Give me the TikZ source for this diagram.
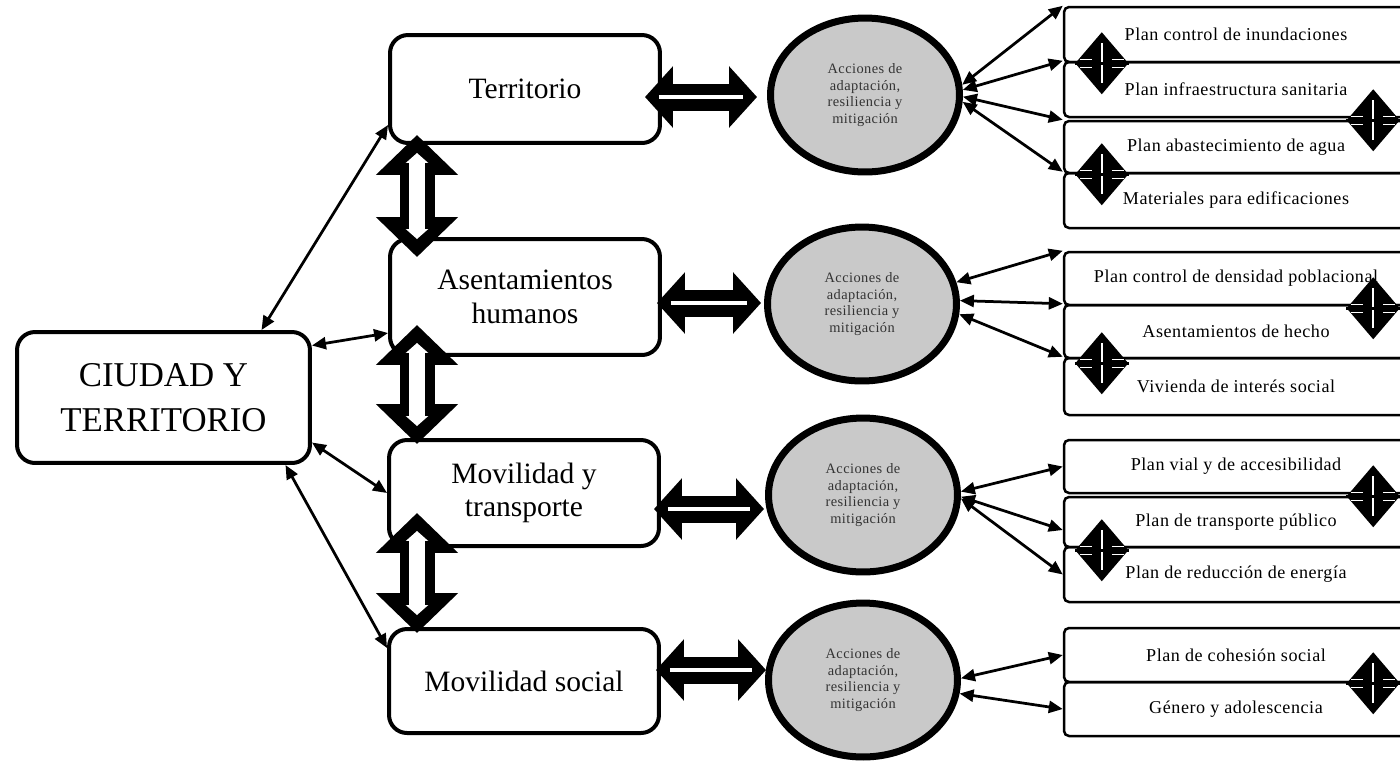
\documentclass[tikz,border=0pt]{standalone}
\usepackage{fontspec}
\setmainfont{Liberation Serif}
\newfontfamily\planfont[LetterSpace=3]{Liberation Serif}
\usetikzlibrary{
	arrows.meta,
	calc,
	positioning,
	shapes.geometric,
}
\tikzset{main box/.style={
	draw,
	rounded corners=0.36cm,
	line width=0.08cm,
	align=center,
	inner sep=0pt,
}}
\tikzset{theme box/.style={
	main box,
	minimum width=5.40cm,
	font=\fontsize{16.8}{19}\selectfont,
}}
\tikzset{action/.style={
	draw,
	ellipse,
	line width=0.14cm,
	fill=actiongray,
	minimum width=3.78cm,
	minimum height=3.08cm,
	inner sep=0pt,
	align=center,
	text=black!80,
	font=\planfont\fontsize{8.2}{9.6}\selectfont,
}}
\tikzset{plan box/.style={
	draw,
	rounded corners=0.1cm,
	line width=0.05cm,
	minimum width=6.88cm,
	inner sep=0pt,
	font=\planfont\fontsize{10.3}{13}\selectfont,
}}
\tikzset{thin link/.style={
	line width=0.055cm,
	{Triangle[length=0.28cm,width=0.24cm]}-{Triangle[length=0.28cm,width=0.24cm]},
}}
\tikzset{fat h/.style={
	line width=0.54cm,
	{Triangle[length=0.56cm,width=1.2cm]}-{Triangle[length=0.56cm,width=1.2cm]},
}}
\tikzset{fat h inner/.style={
	white,
	line width=0.09cm,
	shorten <=0.28cm,
	shorten >=0.28cm,
}}
\tikzset{fat v/.style={
	line width=0.7cm,
	{Triangle[length=0.8cm,width=1.6cm]}-{Triangle[length=0.8cm,width=1.6cm]},
}}
\tikzset{fat v inner/.style={
	white,
	line width=0.32cm,
	shorten <=0.36cm,
	shorten >=0.36cm,
	{Triangle[length=0.2cm,width=0.44cm]}-{Triangle[length=0.2cm,width=0.44cm]},
}}
\definecolor{actiongray}{RGB}{201,201,201}

\begin{document}
\begin{tikzpicture}[x=0.02cm, y=-0.02cm]
\clip (0,0) rectangle (1400,762);

% left column
\node[main box, minimum width=5.86cm, minimum height=2.62cm,
	font=\fontsize{19.8}{26}\selectfont] (ciudad) at (163.5,397.5) {CIUDAD Y\\TERRITORIO};

\node[theme box, minimum height=2.16cm] (terr)	at (525,89)  {Territorio};
\node[theme box, minimum height=2.32cm] (asent)	at (525,297) {Asentamientos\\humanos};
\node[theme box, minimum height=2.12cm] (movt)	at (524,493) {Movilidad y\\transporte};
\node[theme box, minimum height=2.08cm] (movs)	at (524,681) {Movilidad social};

% actions
\newcommand{\acctext}{Acciones de\\adaptación,\\resiliencia y\\mitigación}
\node[action] (acc1) at (865,95)  {\acctext};
\node[action] (acc2) at (862,304) {\acctext};
\node[action] (acc3) at (863,495) {\acctext};
\node[action] (acc4) at (863,680) {\acctext};

% plans
\node[plan box, minimum height=1.10cm] (p11) at (1236,34.5)  {Plan control de inundaciones};
\node[plan box, minimum height=1.10cm] (p12) at (1236,89.5)  {Plan infraestructura sanitaria};
\node[plan box, minimum height=1.04cm] (p13) at (1236,147)   {Plan abastecimiento de agua};
\node[plan box, minimum height=1.10cm] (p14) at (1236,200.5) {Materiales para edificaciones};

\node[plan box, minimum height=1.06cm] (p21) at (1236,278.5) {Plan control de densidad poblacional};
\node[plan box, minimum height=1.06cm] (p22) at (1236,331.5) {Asentamientos de hecho};
\node[plan box, minimum height=1.14cm] (p23) at (1236,386.5) {Vivienda de interés social};

\node[plan box, minimum height=1.06cm] (p31) at (1236,466.5) {Plan vial y de accesibilidad};
\node[plan box, minimum height=1.00cm] (p32) at (1236,522)   {Plan de transporte público};
\node[plan box, minimum height=1.10cm] (p33) at (1236,574.5) {Plan de reducción de energía};

\node[plan box, minimum height=1.08cm] (p41) at (1236,655) {Plan de cohesión social};
\node[plan box, minimum height=1.08cm] (p42) at (1236,709) {Género y adolescencia};

% ciudad -> themes
\draw[thin link] ([shift={(98,0)}]ciudad.north) -- ([shift={(0,36)}]terr.west);
\draw[thin link] ([shift={(0,-52)}]ciudad.east) -- ([shift={(0,36)}]asent.west);
\draw[thin link] ([shift={(0,45)}]ciudad.east) -- (movt.west);
\draw[thin link] ([shift={(122,0)}]ciudad.south) -- ([shift={(0,-33)}]movs.west);

% fat arrows
\newcommand{\fatlink}[3]{
\draw[#1] (#2) -- (#3);
\draw[#1 inner] (#2) -- (#3);
}

\fatlink{fat v}{[shift={(-108,-10)}]terr.south}{[shift={(-108,20)}]asent.north}
\fatlink{fat v}{[shift={(-108,-32)}]asent.south}{[shift={(-107,6)}]movt.north}
\fatlink{fat v}{[shift={(-107,-35)}]movt.south}{[shift={(-107,6)}]movs.north}

\fatlink{fat h}{[shift={(-17,8)}]terr.east}{[shift={(-10,2)}]acc1.west}
\fatlink{fat h}{[shift={(-5,6)}]asent.east}{[shift={(-3,-1)}]acc2.west}
\fatlink{fat h}{[shift={(-7,16)}]movt.east}{[shift={(-1,14)}]acc3.west}
\fatlink{fat h}{[shift={(-5,-11)}]movs.east}{[shift={(1,-10)}]acc4.west}

% actions -> plans
\draw[thin link] (acc1.6)  -- (p11.north west);
\draw[thin link] (acc1.3)  -- (p12.north west);
\draw[thin link] (acc1.-1) -- (p13.north west);
\draw[thin link] (acc1.-4) -- (p14.north west);

\draw[thin link] (acc2.13) -- (p21.north west);
\draw[thin link] (acc2.2)  -- (p22.north west);
\draw[thin link] (acc2.-6) -- (p23.north west);

\draw[thin link] (acc3.2)  -- (p31.west);
\draw[thin link] (acc3.-1) -- ([shift={(0,8)}]p32.west);
\draw[thin link] (acc3.-2) -- (p33.west);

\draw[thin link] (acc4.1)  -- (p41.west);
\draw[thin link] (acc4.-8) -- (p42.west);

% diamonds between plans
\newcommand{\linkmark}[1]{
\fill (#1) ++(0,-31) -- ++(26.5,31) -- ++(-26.5,31) -- ++(-26.5,-31) -- cycle;
\draw[white, line width=0.03cm] (#1) ++(0,-20) -- ++(0,40);
\draw[white, line width=0.03cm] (#1) ++(-22,-4) -- ++(12,0) ++(20,0) -- ++(12,0);
\draw[white, line width=0.03cm] (#1) ++(-22,4) -- ++(12,0) ++(20,0) -- ++(12,0);
\draw[line width=0.06cm] (#1) ++(-27,0) -- ++(54,0);
}

\linkmark{$(p11.south west)+(39,0)$}
\linkmark{$(p12.south east)+(-36,2)$}
\linkmark{$(p13.south west)+(39,0)$}
\linkmark{$(p21.south east)+(-36,2)$}
\linkmark{$(p22.south west)+(39,4)$}
\linkmark{$(p31.south east)+(-36,2)$}
\linkmark{$(p32.south west)+(39,2)$}
\linkmark{$(p41.south east)+(-36,0)$}

\end{tikzpicture}
\end{document}
